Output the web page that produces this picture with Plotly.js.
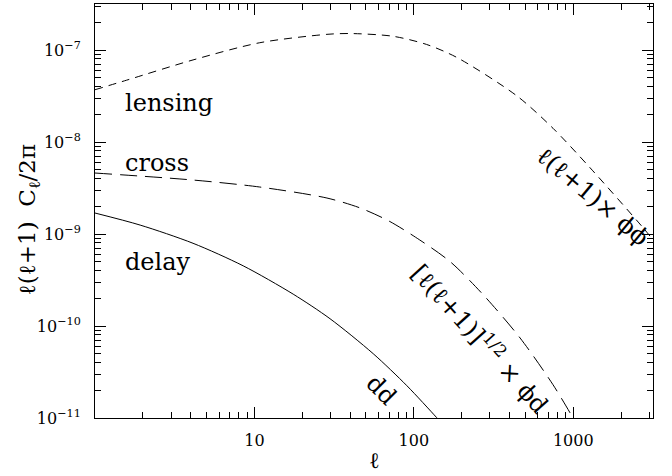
<!DOCTYPE html>
<html>
<head>
<meta charset="utf-8">
<script src="https://cdn.plot.ly/plotly-3.0.1.min.js"></script>
<style>html,body{margin:0;padding:0;background:#fff;}#chart{width:672px;height:476px;}</style>
</head>
<body>
<div id="chart"></div>
<script>
// Data (multipole l, l(l+1)C_l/2pi)
const lensingL = [1, 1.58, 4.12, 10.8, 28.5, 40, 74, 120, 186, 444, 746, 1274, 2740, 3300];
const lensingC = [3.7e-8, 4.7e-8, 7.8e-8, 1.2e-7, 1.48e-7, 1.51e-7, 1.41e-7, 1.15e-7, 8.3e-8, 3.16e-8, 1.41e-8, 5.25e-9, 1.17e-9, 7.9e-10];

const crossL = [1, 4.12, 10.8, 28.5, 46, 70, 109, 169, 272, 464, 746, 997, 1100];
const crossC = [4.6e-9, 3.86e-9, 3.24e-9, 2.46e-9, 1.92e-9, 1.38e-9, 8.6e-10, 5.0e-10, 2.19e-10, 7.4e-11, 2.3e-11, 1.0e-11, 7.4e-12];

const delayL = [1, 1.92, 4.12, 8.5, 17.5, 29.8, 55.6, 90.5, 139, 158];
const delayC = [1.69e-9, 1.25e-9, 7.93e-10, 4.51e-10, 2.22e-10, 1.2e-10, 5.0e-11, 2.24e-11, 1.01e-11, 7.9e-12];

const xTickVals = [10, 100, 1000];
const xTickText = ['10', '100', '1000'];
const yTickVals = [1e-11, 1e-10, 1e-9, 1e-8, 1e-7];
const yTickText = ['10<sup>\u221211</sup>', '10<sup>\u221210</sup>', '10<sup>\u22129</sup>', '10<sup>\u22128</sup>', '10<sup>\u22127</sup>'];

function minorVals(kFrom, kTo) {
  const v = [];
  for (let k = kFrom; k <= kTo; k++) for (let m = 2; m <= 9; m++) v.push(m * Math.pow(10, k));
  return v;
}

const serif = 'DejaVu Serif, serif';
const line = {color: '#000', width: 1};

const traces = [
  {x: lensingL, y: lensingC, mode: 'lines', line: Object.assign({dash: '8px,6px', shape: 'spline', smoothing: 0.8}, line), hoverinfo: 'skip'},
  {x: crossL, y: crossC, mode: 'lines', line: Object.assign({dash: '17px,8px', shape: 'spline', smoothing: 0.8}, line), hoverinfo: 'skip'},
  {x: delayL, y: delayC, mode: 'lines', line: Object.assign({shape: 'spline', smoothing: 0.8}, line), hoverinfo: 'skip'}
];

const axisCommon = {
  type: 'log', showgrid: false, zeroline: false,
  showline: true, linecolor: '#000', linewidth: 1, mirror: 'allticks',
  ticks: 'inside', ticklen: 11, tickcolor: '#000', tickwidth: 1,
  tickfont: {family: serif, size: 16, color: '#000'}, tickmode: 'array'
};

const layout = {
  width: 672, height: 476,
  margin: {l: 95, r: 19, t: 4, b: 58},
  paper_bgcolor: '#fff', plot_bgcolor: '#fff',
  showlegend: false,
  xaxis: Object.assign({}, axisCommon, {
    range: [0, 3.5], tickvals: xTickVals, ticktext: xTickText, ticklabelstandoff: 8,
    minor: {ticks: 'inside', ticklen: 6, tickcolor: '#000', tickmode: 'array', tickvals: minorVals(0, 3), showgrid: false}
  }),
  yaxis: Object.assign({}, axisCommon, {
    range: [-11, -6.5], tickvals: yTickVals, ticktext: yTickText, ticklabelstandoff: 10,
    minor: {ticks: 'inside', ticklen: 6, tickcolor: '#000', tickmode: 'array', tickvals: minorVals(-11, -7), showgrid: false}
  }),
  annotations: [
    {xref: 'paper', yref: 'paper', x: 0.5, y: -0.103, xanchor: 'center', yanchor: 'middle', showarrow: false,
     text: 'ℓ', font: {family: serif, size: 22, color: '#000'}},
    {xref: 'paper', yref: 'paper', x: -0.118, y: 0.478, xanchor: 'center', yanchor: 'middle', showarrow: false, textangle: -90,
     text: 'ℓ(ℓ+1)  C<sub>ℓ</sub>/2π', font: {family: serif, size: 23, color: '#000'}},
    {xref: 'paper', yref: 'paper', x: 0.050, y: 0.761, xanchor: 'left', yanchor: 'middle', showarrow: false,
     text: 'lensing', font: {family: serif, size: 24, color: '#000'}},
    {xref: 'paper', yref: 'paper', x: 0.050, y: 0.616, xanchor: 'left', yanchor: 'middle', showarrow: false,
     text: 'cross', font: {family: serif, size: 24, color: '#000'}},
    {xref: 'paper', yref: 'paper', x: 0.050, y: 0.377, xanchor: 'left', yanchor: 'middle', showarrow: false,
     text: 'delay', font: {family: serif, size: 24, color: '#000'}},
    {xref: 'paper', yref: 'paper', x: 0.893, y: 0.534, xanchor: 'center', yanchor: 'middle', showarrow: false, textangle: 40,
     text: 'ℓ(ℓ+1)\u00d7 ϕϕ', font: {family: serif, size: 24, color: '#000'}},
    {xref: 'paper', yref: 'paper', x: 0.692, y: 0.193, xanchor: 'center', yanchor: 'middle', showarrow: false, textangle: 48,
     text: '[ℓ(ℓ+1)]<sup>1/2</sup> \u00d7 ϕd', font: {family: serif, size: 24, color: '#000'}},
    {xref: 'paper', yref: 'paper', x: 0.513, y: 0.068, xanchor: 'center', yanchor: 'middle', showarrow: false, textangle: 45,
     text: 'dd', font: {family: serif, size: 24, color: '#000'}}
  ]
};

Plotly.newPlot('chart', traces, layout, {staticPlot: true, displayModeBar: false});
</script>
</body>
</html>
